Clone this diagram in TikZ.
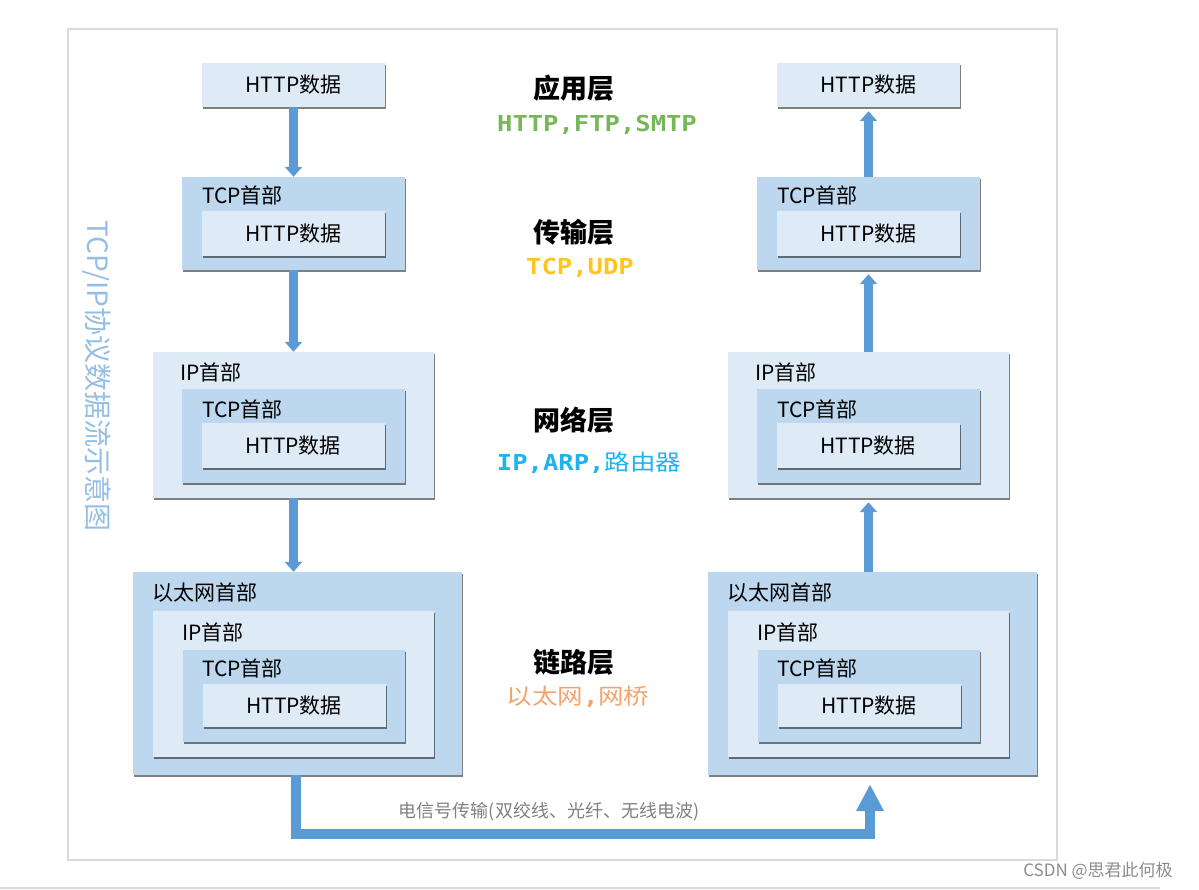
\documentclass[tikz,border=0pt]{standalone}
\usepackage{fontspec}
\usepackage{graphicx}
\setmainfont{Noto Sans CJK SC}
\newfontfamily\monof{DejaVu Sans Mono}
\usetikzlibrary{shadows,arrows.meta,positioning}

\definecolor{midbl}{HTML}{BDD7EE}
\definecolor{litebl}{HTML}{DEEAF6}
\definecolor{flowbl}{HTML}{5B9BD5}
\definecolor{titlebl}{HTML}{95BEE4}
\definecolor{framegray}{HTML}{DADADA}
\definecolor{protogreen}{HTML}{78B65A}
\definecolor{protoyellow}{HTML}{FFC51E}
\definecolor{protocyan}{HTML}{1CB4F0}
\definecolor{protoorange}{HTML}{F5A26C}

\newcommand{\pktfont}{\fontsize{21}{25}\selectfont}

\tikzstyle{pkt} = [inner sep=0pt, drop shadow={shadow xshift=1pt, shadow yshift=-2pt, fill=black, opacity=.5}]
\tikzstyle{dat} = [pkt, fill=litebl, minimum width=183pt, minimum height=44pt]
\tikzstyle{hdr} = [anchor=west, inner sep=0pt]
\tikzstyle{flow} = [draw=flowbl, line width=9pt, -{Triangle[width=17pt,length=10pt]}]
\tikzstyle{layer} = [font=\fontsize{27}{30}\selectfont\bfseries]
\tikzstyle{proto} = [font=\fontsize{22}{26}\selectfont\monof\bfseries]

\begin{document}
\begin{tikzpicture}[x=1pt, y=-1pt,
font=\pktfont,
]

\useasboundingbox (0,0) rectangle (1199,889);

% frame
\draw[framegray, line width=1.5pt] (68,29) rectangle (1057,860);
\draw[framegray, line width=1.5pt] (0,888) -- (1160,888);
\node[rotate=-90, text=titlebl, font=\fontsize{28}{32}\selectfont] (title) at (97,376) {TCP/IP协议数据流示意图};

% both hosts
\foreach \s/\n in {0/l,575/r} {%
 %APPLICATION
 \node[dat] (\n-app) at (293.5+\s,85) {HTTP数据};
 %TRANSPORT
 \node[pkt, fill=midbl, minimum width=223pt, minimum height=93pt] (\n-tcp2) at (293.5+\s,223.5) {};
 \node[hdr] (\n-tcp2h) at (202+\s,195) {TCP首部};
 \node[dat, minimum height=45pt] (\n-http2) at (293.5+\s,233.5) {HTTP数据};
 %NETWORK
 \node[pkt, fill=litebl, minimum width=281pt, minimum height=146pt] (\n-ip3) at (293.5+\s,425) {};
 \node[hdr] (\n-ip3h) at (180+\s,372) {IP首部};
 \node[pkt, fill=midbl, minimum width=223pt, minimum height=94pt] (\n-tcp3) at (293.5+\s,436) {};
 \node[hdr] (\n-tcp3h) at (202+\s,409) {TCP首部};
 \node[dat, minimum height=45pt] (\n-http3) at (293+\s,445.5) {HTTP数据};
 %LINK
 \node[pkt, fill=midbl, minimum width=329pt, minimum height=203pt] (\n-eth4) at (297.5+\s,673.5) {};
 \node[hdr] (\n-eth4h) at (152+\s,593) {以太网首部};
 \node[pkt, fill=litebl, minimum width=281pt, minimum height=146pt] (\n-ip4) at (293.5+\s,684) {};
 \node[hdr] (\n-ip4h) at (182+\s,632) {IP首部};
 \node[pkt, fill=midbl, minimum width=222pt, minimum height=92pt] (\n-tcp4) at (294+\s,696) {};
 \node[hdr] (\n-tcp4h) at (202+\s,668) {TCP首部};
 \node[dat, minimum height=43pt] (\n-http4) at (294+\s,705.5) {HTTP数据};
}

% sender goes down
\draw[flow] (l-app) -- (l-tcp2);
\draw[flow] (l-tcp2) -- (l-ip3);
\draw[flow] (l-ip3.south) -- (l-ip3.south |- l-eth4.north);

% receiver goes up
\draw[flow, shorten >=4pt] (r-ip3.south |- r-eth4.north) -- (r-ip3.south);
\draw[flow, shorten >=4pt] (r-ip3) -- (r-tcp2);
\draw[flow, shorten >=4pt] (r-tcp2) -- (r-app);

% wire
\draw[draw=flowbl, line width=10pt, shorten >=9pt, -{Triangle[width=26pt,length=27pt]}]
 ([xshift=-1.5pt]l-eth4.south) -- ++(0,59) -| ([xshift=-2.5pt]r-eth4.south);
\node[text=black!50, font=\fontsize{18}{22}\selectfont] (wire) at (549,812) {电信号传输(双绞线、光纤、无线电波)};

% layer names
\node[layer] (appl) at (574,88) {应用层};
\node[proto, text=protogreen] (applp) at (597,125) {\scalebox{1.16}[1]{HTTP,FTP,SMTP}};
\node[layer] (trans) at (574,232) {传输层};
\node[proto, text=protoyellow] (transp) at (580,268) {\scalebox{1.16}[1]{TCP,UDP}};
\node[layer] (net) at (574,420) {网络层};
\node[proto, text=protocyan] (netp) at (589,463) {\scalebox{1.16}[1]{IP,ARP,{\normalfont 路由器}}};
\node[layer] (link) at (574,662) {链路层};
\node[proto, text=protoorange] (linkp) at (578,697) {\scalebox{1.16}[1]{{\normalfont 以太网},{\normalfont 网桥}}};

\node[text=black!45, font=\fontsize{17}{20}\selectfont] (mark) at (1098,871) {CSDN @思君此何极};

\end{tikzpicture}
\end{document}
